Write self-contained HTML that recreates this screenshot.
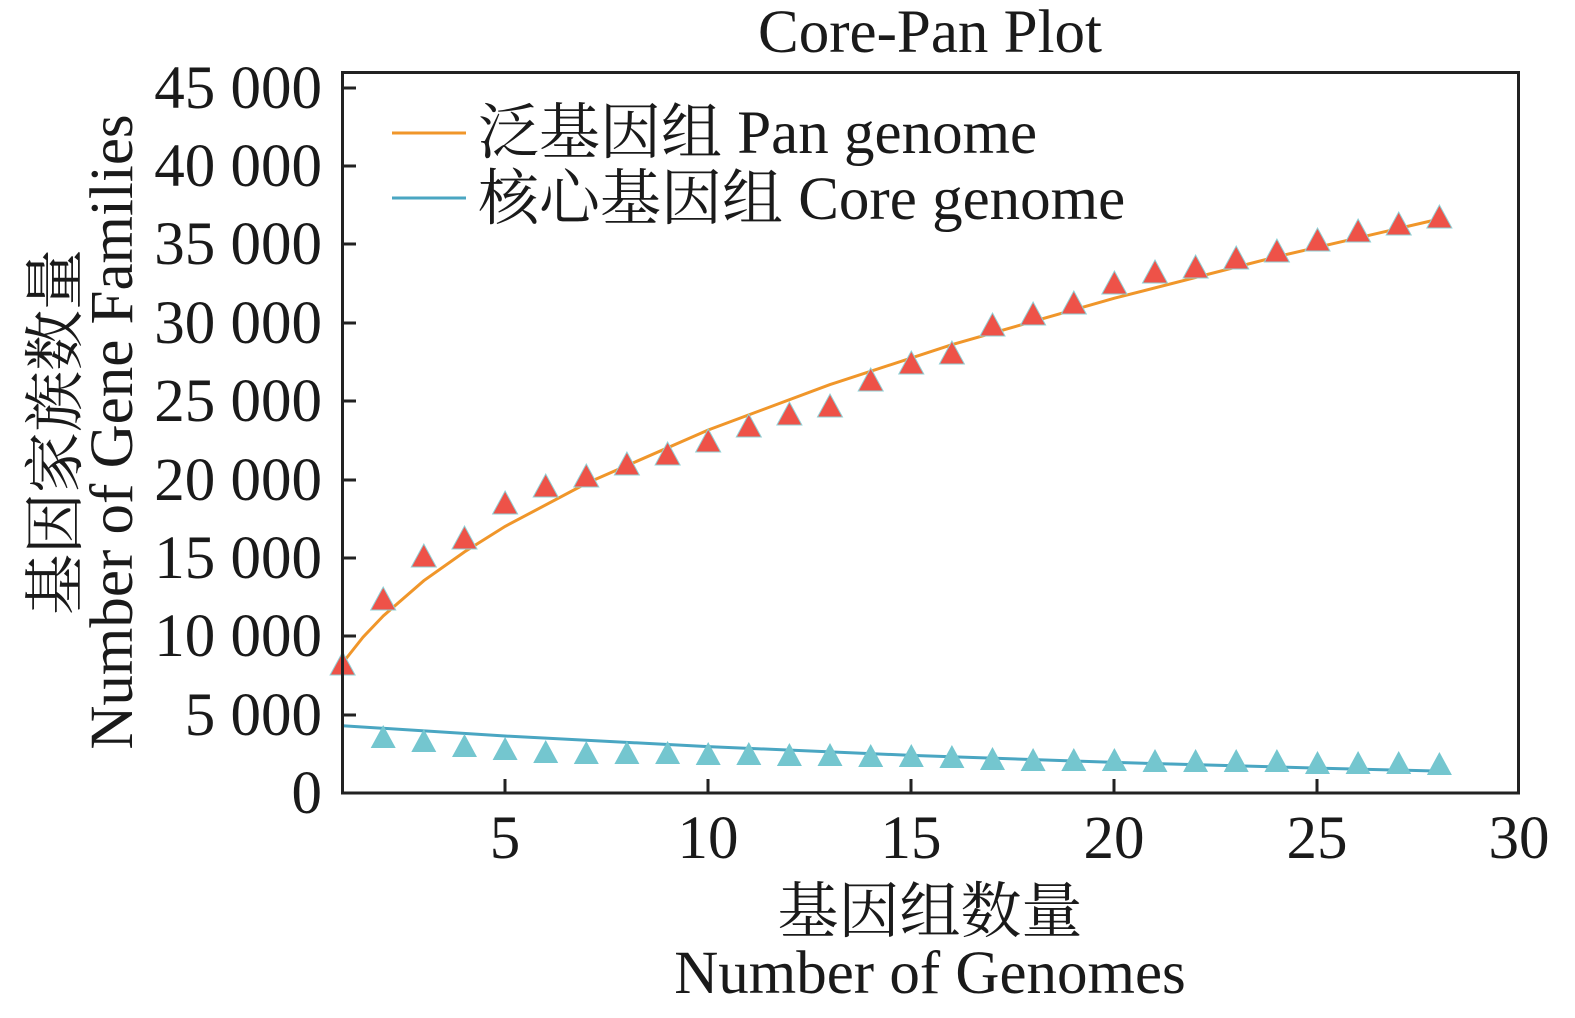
<!DOCTYPE html>
<html><head><meta charset="utf-8"><style>
html,body{margin:0;padding:0;background:#fff;}
svg{display:block;}
text{font-family:"Liberation Serif","Noto Serif CJK SC",serif;fill:#1a1a1a;}
</style></head><body>
<svg width="1575" height="1018" viewBox="0 0 1575 1018" xmlns="http://www.w3.org/2000/svg">
<defs>
<polygon id="tp" points="0,-12 12.5,11 -12.5,11" fill="#ee5248" stroke="#8fd0d6" stroke-width="1"/>
<polygon id="tc" points="0,-12 12.5,11 -12.5,11" fill="#74c6cf"/>
</defs>
<text x="930" y="52" font-size="61" text-anchor="middle">Core-Pan Plot</text>
<g stroke="#222" stroke-width="3">
<line x1="342" y1="88" x2="356" y2="88"/><line x1="342" y1="166" x2="356" y2="166"/>
<line x1="342" y1="244" x2="356" y2="244"/><line x1="342" y1="323" x2="356" y2="323"/>
<line x1="342" y1="401" x2="356" y2="401"/><line x1="342" y1="480" x2="356" y2="480"/>
<line x1="342" y1="558" x2="356" y2="558"/><line x1="342" y1="636" x2="356" y2="636"/>
<line x1="342" y1="715" x2="356" y2="715"/>
<line x1="505" y1="793" x2="505" y2="779"/><line x1="708" y1="793" x2="708" y2="779"/>
<line x1="911" y1="793" x2="911" y2="779"/><line x1="1114" y1="793" x2="1114" y2="779"/>
<line x1="1317" y1="793" x2="1317" y2="779"/>
</g>
<g font-size="61" text-anchor="end">
<text x="322" y="108">45 000</text><text x="322" y="186">40 000</text>
<text x="322" y="264">35 000</text><text x="322" y="343">30 000</text>
<text x="322" y="421">25 000</text><text x="322" y="500">20 000</text>
<text x="322" y="578">15 000</text><text x="322" y="656">10 000</text>
<text x="322" y="735">5 000</text><text x="322" y="813">0</text>
</g>
<g font-size="61" text-anchor="middle">
<text x="505" y="858">5</text><text x="708" y="858">10</text><text x="911" y="858">15</text>
<text x="1114" y="858">20</text><text x="1317" y="858">25</text><text x="1519" y="858">30</text>
</g>
<text x="930" y="932" font-size="61" text-anchor="middle">基因组数量</text>
<text x="930" y="993" font-size="61" text-anchor="middle">Number of Genomes</text>
<g transform="translate(76,432) rotate(-90)"><text x="0" y="0" font-size="61" text-anchor="middle">基因家族数量</text></g>
<g transform="translate(132,432) rotate(-90)"><text x="0" y="0" font-size="61" text-anchor="middle">Number of Gene Families</text></g>
<polyline fill="none" stroke="#f0962a" stroke-width="3" points="342.6,663 362.9,637.3 383.2,616 423.8,580.7 464.5,551.9 505.1,526.4 586.3,483.4 708.2,430 830,384.6 951.9,344.7 1114.4,298.2 1276.9,256.7 1439.4,219"/>
<polyline fill="none" stroke="#4aa6c2" stroke-width="3" points="342.6,725.7 505.1,736 708.2,746.6 911.3,755.4 1114.4,762.4 1317.5,768.1 1439.4,771.1"/>
<g>
<use href="#tp" x="342.6" y="664"/><use href="#tp" x="383.2" y="599"/><use href="#tp" x="423.8" y="556"/>
<use href="#tp" x="464.5" y="538"/><use href="#tp" x="505.1" y="503"/><use href="#tp" x="545.7" y="486"/>
<use href="#tp" x="586.3" y="476"/><use href="#tp" x="626.9" y="464"/><use href="#tp" x="667.6" y="454"/>
<use href="#tp" x="708.2" y="441"/><use href="#tp" x="748.8" y="426"/><use href="#tp" x="789.4" y="414"/>
<use href="#tp" x="830" y="406"/><use href="#tp" x="870.7" y="380"/><use href="#tp" x="911.3" y="363"/>
<use href="#tp" x="951.9" y="353"/><use href="#tp" x="992.5" y="325"/><use href="#tp" x="1033.1" y="314"/>
<use href="#tp" x="1073.8" y="303"/><use href="#tp" x="1114.4" y="283"/><use href="#tp" x="1155" y="272"/>
<use href="#tp" x="1195.6" y="267"/><use href="#tp" x="1236.2" y="258"/><use href="#tp" x="1276.9" y="251"/>
<use href="#tp" x="1317.5" y="240"/><use href="#tp" x="1358.1" y="231"/><use href="#tp" x="1398.7" y="224"/>
<use href="#tp" x="1439.4" y="217"/>
</g>
<g>
<use href="#tc" x="383.2" y="737"/><use href="#tc" x="423.8" y="741"/>
<use href="#tc" x="464.5" y="746"/><use href="#tc" x="505.1" y="749"/><use href="#tc" x="545.7" y="752"/>
<use href="#tc" x="586.3" y="753"/><use href="#tc" x="626.9" y="753"/><use href="#tc" x="667.6" y="753"/>
<use href="#tc" x="708.2" y="754"/><use href="#tc" x="748.8" y="754"/><use href="#tc" x="789.4" y="755"/>
<use href="#tc" x="830" y="755"/><use href="#tc" x="870.7" y="756"/><use href="#tc" x="911.3" y="756"/>
<use href="#tc" x="951.9" y="757"/><use href="#tc" x="992.5" y="759"/><use href="#tc" x="1033.1" y="760"/>
<use href="#tc" x="1073.8" y="760"/><use href="#tc" x="1114.4" y="760"/><use href="#tc" x="1155" y="761"/>
<use href="#tc" x="1195.6" y="761"/><use href="#tc" x="1236.2" y="761"/><use href="#tc" x="1276.9" y="761"/>
<use href="#tc" x="1317.5" y="763"/><use href="#tc" x="1358.1" y="763"/><use href="#tc" x="1398.7" y="763"/>
<use href="#tc" x="1439.4" y="764"/>
</g>
<rect x="342.5" y="72.5" width="1176" height="720.5" fill="none" stroke="#222" stroke-width="3"/>
<line x1="392" y1="133" x2="466" y2="133" stroke="#f0962a" stroke-width="3"/>
<line x1="392" y1="198" x2="466" y2="198" stroke="#4aa6c2" stroke-width="3"/>
<text x="478" y="153" font-size="61">泛基因组 Pan genome</text>
<text x="478" y="219" font-size="61">核心基因组 Core genome</text>
</svg>
</body></html>
